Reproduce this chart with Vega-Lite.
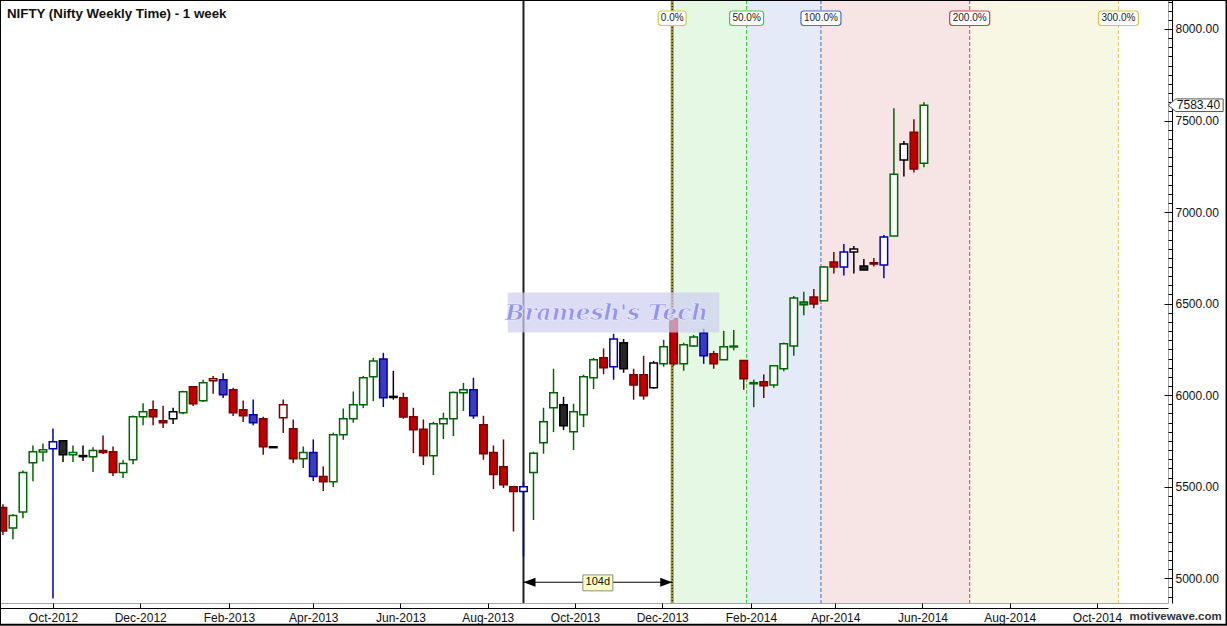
{
  "$schema": "https://vega.github.io/schema/vega-lite/v6.json",
  "width": 1168,
  "height": 603,
  "autosize": {"type": "none"},
  "padding": {"left": 0, "top": 0, "right": 59, "bottom": 23},
  "background": "#ffffff",
  "config": {
    "view": {"stroke": "#a8a8a8", "strokeWidth": 1},
    "font": "Liberation Sans",
    "text": {"font": "Liberation Sans"},
    "axis": {"labelOverlap": false},
    "scale": {"continuousPadding": 0}
  },
  "title": {
    "text": "NIFTY (Nifty Weekly Time) - 1 week",
    "anchor": "start",
    "frame": "group",
    "orient": "top",
    "offset": 0,
    "baseline": "alphabetic",
    "dy": 33,
    "dx": 7,
    "font": "Liberation Sans",
    "fontSize": 13.3,
    "fontWeight": "bold",
    "color": "#111111"
  },
  "resolve": {"scale": {"fill": "independent", "stroke": "independent"}, "axis": {"y": "independent"}},
  "datasets": {
    "candles": [
      {"d":"2012-08-27","o":5386,"h":5404,"l":5236,"c":5258,"g":"R"},
      {"d":"2012-09-03","o":5274,"h":5349,"l":5213,"c":5342,"g":"G"},
      {"d":"2012-09-10","o":5362,"h":5589,"l":5327,"c":5577,"g":"G"},
      {"d":"2012-09-17","o":5631,"h":5725,"l":5529,"c":5691,"g":"G"},
      {"d":"2012-09-24","o":5689,"h":5736,"l":5638,"c":5702,"g":"G"},
      {"d":"2012-10-01","o":5707,"h":5818,"l":4889,"c":5746,"g":"B"},
      {"d":"2012-10-08","o":5751,"h":5755,"l":5635,"c":5675,"g":"K"},
      {"d":"2012-10-15","o":5675,"h":5725,"l":5635,"c":5686,"g":"G"},
      {"d":"2012-10-22","o":5670,"h":5725,"l":5640,"c":5664,"g":"K"},
      {"d":"2012-10-29","o":5664,"h":5715,"l":5580,"c":5697,"g":"G"},
      {"d":"2012-11-05","o":5697,"h":5780,"l":5678,"c":5686,"g":"R"},
      {"d":"2012-11-12","o":5691,"h":5720,"l":5558,"c":5577,"g":"R"},
      {"d":"2012-11-19","o":5577,"h":5644,"l":5547,"c":5626,"g":"G"},
      {"d":"2012-11-26","o":5647,"h":5889,"l":5622,"c":5882,"g":"G"},
      {"d":"2012-12-03","o":5882,"h":5955,"l":5836,"c":5909,"g":"G"},
      {"d":"2012-12-10","o":5920,"h":5971,"l":5836,"c":5882,"g":"R"},
      {"d":"2012-12-17","o":5860,"h":5942,"l":5820,"c":5849,"g":"R"},
      {"d":"2012-12-24","o":5871,"h":5931,"l":5842,"c":5909,"g":"K"},
      {"d":"2012-12-31","o":5904,"h":6024,"l":5896,"c":6018,"g":"G"},
      {"d":"2013-01-07","o":6046,"h":6046,"l":5940,"c":5953,"g":"R"},
      {"d":"2013-01-14","o":5969,"h":6084,"l":5962,"c":6067,"g":"G"},
      {"d":"2013-01-21","o":6078,"h":6105,"l":6007,"c":6089,"g":"R"},
      {"d":"2013-01-28","o":6084,"h":6120,"l":5984,"c":6002,"g":"B"},
      {"d":"2013-02-04","o":6029,"h":6040,"l":5886,"c":5904,"g":"R"},
      {"d":"2013-02-11","o":5920,"h":5971,"l":5853,"c":5887,"g":"R"},
      {"d":"2013-02-18","o":5893,"h":5976,"l":5836,"c":5849,"g":"B"},
      {"d":"2013-02-25","o":5871,"h":5882,"l":5675,"c":5718,"g":"R"},
      {"d":"2013-03-04","o":5718,"h":5718,"l":5713,"c":5713,"g":"K"},
      {"d":"2013-03-11","o":5876,"h":5976,"l":5793,"c":5947,"g":"R"},
      {"d":"2013-03-18","o":5817,"h":5867,"l":5629,"c":5653,"g":"R"},
      {"d":"2013-03-25","o":5653,"h":5720,"l":5602,"c":5686,"g":"G"},
      {"d":"2013-04-01","o":5686,"h":5758,"l":5531,"c":5555,"g":"B"},
      {"d":"2013-04-08","o":5555,"h":5611,"l":5476,"c":5527,"g":"R"},
      {"d":"2013-04-15","o":5527,"h":5795,"l":5498,"c":5784,"g":"G"},
      {"d":"2013-04-22","o":5784,"h":5927,"l":5756,"c":5871,"g":"G"},
      {"d":"2013-04-29","o":5871,"h":6020,"l":5849,"c":5947,"g":"G"},
      {"d":"2013-05-06","o":5947,"h":6105,"l":5929,"c":6095,"g":"G"},
      {"d":"2013-05-13","o":6100,"h":6204,"l":5967,"c":6187,"g":"G"},
      {"d":"2013-05-20","o":6198,"h":6231,"l":5935,"c":5985,"g":"B"},
      {"d":"2013-05-27","o":5993,"h":6133,"l":5975,"c":5987,"g":"K"},
      {"d":"2013-06-03","o":5985,"h":6013,"l":5871,"c":5880,"g":"R"},
      {"d":"2013-06-10","o":5882,"h":5931,"l":5684,"c":5811,"g":"R"},
      {"d":"2013-06-17","o":5813,"h":5867,"l":5618,"c":5669,"g":"R"},
      {"d":"2013-06-24","o":5669,"h":5855,"l":5563,"c":5844,"g":"G"},
      {"d":"2013-07-01","o":5844,"h":5904,"l":5760,"c":5871,"g":"G"},
      {"d":"2013-07-08","o":5871,"h":6020,"l":5776,"c":6015,"g":"G"},
      {"d":"2013-07-15","o":6013,"h":6067,"l":5914,"c":6029,"g":"G"},
      {"d":"2013-07-22","o":6029,"h":6095,"l":5871,"c":5887,"g":"B"},
      {"d":"2013-07-29","o":5838,"h":5887,"l":5647,"c":5680,"g":"R"},
      {"d":"2013-08-05","o":5686,"h":5725,"l":5487,"c":5566,"g":"R"},
      {"d":"2013-08-12","o":5609,"h":5758,"l":5493,"c":5511,"g":"R"},
      {"d":"2013-08-19","o":5500,"h":5505,"l":5255,"c":5473,"g":"R"},
      {"d":"2013-08-26","o":5473,"h":5527,"l":5119,"c":5500,"g":"B"},
      {"d":"2013-09-02","o":5577,"h":5691,"l":5318,"c":5682,"g":"G"},
      {"d":"2013-09-09","o":5740,"h":5931,"l":5680,"c":5855,"g":"G"},
      {"d":"2013-09-16","o":5931,"h":6144,"l":5798,"c":6013,"g":"G"},
      {"d":"2013-09-23","o":5947,"h":5991,"l":5809,"c":5833,"g":"K"},
      {"d":"2013-09-30","o":5800,"h":5953,"l":5700,"c":5909,"g":"G"},
      {"d":"2013-10-07","o":5893,"h":6111,"l":5825,"c":6100,"g":"G"},
      {"d":"2013-10-14","o":6095,"h":6204,"l":6033,"c":6193,"g":"G"},
      {"d":"2013-10-21","o":6204,"h":6255,"l":6114,"c":6149,"g":"R"},
      {"d":"2013-10-28","o":6155,"h":6335,"l":6084,"c":6307,"g":"B"},
      {"d":"2013-11-04","o":6286,"h":6307,"l":6122,"c":6144,"g":"K"},
      {"d":"2013-11-11","o":6111,"h":6144,"l":5975,"c":6056,"g":"R"},
      {"d":"2013-11-18","o":6111,"h":6215,"l":5975,"c":5996,"g":"R"},
      {"d":"2013-11-25","o":6040,"h":6187,"l":6035,"c":6176,"g":"K"},
      {"d":"2013-12-02","o":6171,"h":6302,"l":6155,"c":6264,"g":"G"},
      {"d":"2013-12-09","o":6418,"h":6420,"l":6160,"c":6171,"g":"R"},
      {"d":"2013-12-16","o":6171,"h":6286,"l":6133,"c":6275,"g":"G"},
      {"d":"2013-12-23","o":6269,"h":6329,"l":6264,"c":6318,"g":"G"},
      {"d":"2013-12-30","o":6340,"h":6362,"l":6171,"c":6215,"g":"B"},
      {"d":"2014-01-06","o":6226,"h":6242,"l":6144,"c":6171,"g":"R"},
      {"d":"2014-01-13","o":6193,"h":6351,"l":6193,"c":6264,"g":"G"},
      {"d":"2014-01-20","o":6263,"h":6356,"l":6245,"c":6268,"g":"G"},
      {"d":"2014-01-27","o":6189,"h":6189,"l":6029,"c":6089,"g":"R"},
      {"d":"2014-02-03","o":6062,"h":6085,"l":5934,"c":6068,"g":"G"},
      {"d":"2014-02-10","o":6073,"h":6113,"l":5984,"c":6051,"g":"R"},
      {"d":"2014-02-17","o":6056,"h":6162,"l":6040,"c":6160,"g":"G"},
      {"d":"2014-02-24","o":6144,"h":6287,"l":6131,"c":6280,"g":"G"},
      {"d":"2014-03-03","o":6269,"h":6542,"l":6215,"c":6531,"g":"G"},
      {"d":"2014-03-10","o":6509,"h":6564,"l":6436,"c":6493,"g":"G"},
      {"d":"2014-03-17","o":6536,"h":6580,"l":6474,"c":6498,"g":"R"},
      {"d":"2014-03-24","o":6515,"h":6704,"l":6515,"c":6700,"g":"G"},
      {"d":"2014-03-31","o":6727,"h":6782,"l":6665,"c":6700,"g":"R"},
      {"d":"2014-04-07","o":6700,"h":6826,"l":6654,"c":6782,"g":"B"},
      {"d":"2014-04-14","o":6782,"h":6815,"l":6665,"c":6798,"g":"K"},
      {"d":"2014-04-21","o":6705,"h":6744,"l":6684,"c":6684,"g":"K"},
      {"d":"2014-04-28","o":6723,"h":6749,"l":6703,"c":6716,"g":"R"},
      {"d":"2014-05-05","o":6711,"h":6875,"l":6638,"c":6864,"g":"B"},
      {"d":"2014-05-12","o":6869,"h":7567,"l":6869,"c":7207,"g":"G"},
      {"d":"2014-05-19","o":7284,"h":7388,"l":7194,"c":7371,"g":"K"},
      {"d":"2014-05-26","o":7436,"h":7507,"l":7216,"c":7235,"g":"R"},
      {"d":"2014-06-02","o":7267,"h":7600,"l":7245,"c":7583.4,"g":"G"}
    ],
    "zones": [
      {"d":"2013-12-08","d2":"2014-01-29","z":"50"},
      {"d":"2014-01-29","d2":"2014-03-22","z":"100"},
      {"d":"2014-03-22","d2":"2014-07-04","z":"200"},
      {"d":"2014-07-04","d2":"2014-10-16","z":"300"}
    ],
    "levels": [
      {"d":"2013-12-08","lv":"0.0%"},
      {"d":"2014-01-29","lv":"50.0%"},
      {"d":"2014-03-22","lv":"100.0%"},
      {"d":"2014-07-04","lv":"200.0%"},
      {"d":"2014-10-16","lv":"300.0%"}
    ],
    "span": [
      {"d":"2013-08-26","d2":"2013-12-08","mid":"2013-10-17","p":4978,"label":"104d"}
    ],
    "frame": [
      {"d":"2012-08-24T23:00:00Z","p":8158.2}
    ]
  },
  "layer": [
    {
      "data": {"name": "zones"},
      "mark": {"type": "rect"},
      "encoding": {
        "x": {"field": "d", "type": "temporal", "title": null,
              "scale": {"type": "utc", "nice": false, "padding": 0, "domain": [{"year":2012,"month":8,"date":24,"hours":23,"utc":true},{"year":2014,"month":11,"date":19,"hours":16,"utc":true}]}},
        "x2": {"field": "d2"},
        "fill": {"field": "z", "type": "nominal", "legend": null,
                 "scale": {"domain": ["50","100","200","300"], "range": ["#e4f8e4","#e4eaf7","#f7e4e4","#f8f7e4"]}}
      }
    },
    {
      "data": {"name": "levels"},
      "transform": [{"filter": "datum.lv !== '0.0%'"}],
      "mark": {"type": "rule", "strokeDash": [4, 2], "strokeWidth": 1},
      "encoding": {
        "x": {"field": "d", "type": "temporal", "title": null,
              "scale": {"type": "utc", "nice": false, "padding": 0, "domain": [{"year":2012,"month":8,"date":24,"hours":23,"utc":true},{"year":2014,"month":11,"date":19,"hours":16,"utc":true}]}},
        "stroke": {"field": "lv", "type": "nominal", "legend": null,
                   "scale": {"domain": ["50.0%","100.0%","200.0%","300.0%"], "range": ["#33cc33","#4a6ec4","#d04545","#d8d060"]}}
      }
    },
    {
      "data": {"name": "levels"},
      "transform": [{"filter": "datum.lv === '0.0%'"}],
      "mark": {"type": "rule", "strokeWidth": 3, "color": "#9c9636"},
      "encoding": {
        "x": {"field": "d", "type": "temporal", "title": null,
              "scale": {"type": "utc", "nice": false, "padding": 0, "domain": [{"year":2012,"month":8,"date":24,"hours":23,"utc":true},{"year":2014,"month":11,"date":19,"hours":16,"utc":true}]}}
      }
    },
    {
      "data": {"name": "levels"},
      "transform": [{"filter": "datum.lv === '0.0%'"}],
      "mark": {"type": "rule", "strokeWidth": 1, "strokeDash": [1, 2], "color": "#000000"},
      "encoding": {
        "x": {"field": "d", "type": "temporal", "title": null,
              "scale": {"type": "utc", "nice": false, "padding": 0, "domain": [{"year":2012,"month":8,"date":24,"hours":23,"utc":true},{"year":2014,"month":11,"date":19,"hours":16,"utc":true}]}}
      }
    },
    {
      "data": {"name": "span"},
      "mark": {"type": "rule", "strokeWidth": 2, "color": "#1e1e1e"},
      "encoding": {
        "x": {"field": "d", "type": "temporal", "title": null,
              "scale": {"type": "utc", "nice": false, "padding": 0, "domain": [{"year":2012,"month":8,"date":24,"hours":23,"utc":true},{"year":2014,"month":11,"date":19,"hours":16,"utc":true}]}}
      }
    },
    {
      "data": {"name": "frame"},
      "mark": {"type": "rule", "strokeWidth": 2, "color": "#000000"},
      "encoding": {
        "x": {"field": "d", "type": "temporal", "title": null,
              "scale": {"type": "utc", "nice": false, "padding": 0, "domain": [{"year":2012,"month":8,"date":24,"hours":23,"utc":true},{"year":2014,"month":11,"date":19,"hours":16,"utc":true}]}}
      }
    },
    {
      "data": {"name": "frame"},
      "mark": {"type": "rule", "strokeWidth": 2, "color": "#000000"},
      "encoding": {
        "y": {"field": "p", "type": "quantitative", "title": null,
              "scale": {"domain": [4864.6, 8158.2], "nice": false, "zero": false, "padding": 0},
              "axis": {
                "orient": "right", "offset": 4, "grid": false, "title": null,
                "values": [4900,4950,5050,5100,5150,5200,5250,5300,5350,5400,5450,5550,5600,5650,5700,5750,5800,5850,5900,5950,6050,6100,6150,6200,6250,6300,6350,6400,6450,6550,6600,6650,6700,6750,6800,6850,6900,6950,7050,7100,7150,7200,7250,7300,7350,7400,7450,7550,7600,7650,7700,7750,7800,7850,7900,7950,8050,8100,8150],
                "labels": false, "domain": false,
                "tickSize": -4, "tickColor": "#000000", "tickWidth": 1
              }}
      }
    },
    {
      "data": {"name": "candles"},
      "mark": {"type": "rule", "strokeWidth": 1.5},
      "encoding": {
        "x": {"field": "d", "type": "temporal", "title": null,
              "scale": {"type": "utc", "nice": false, "padding": 0, "domain": [{"year":2012,"month":8,"date":24,"hours":23,"utc":true},{"year":2014,"month":11,"date":19,"hours":16,"utc":true}]},
              "axis": {
                "orient": "bottom", "offset": 5, "grid": false, "title": null,
                "values": [
                  {"year":2012,"month":10,"date":1,"utc":true},{"year":2012,"month":12,"date":1,"utc":true},
                  {"year":2013,"month":2,"date":1,"utc":true},{"year":2013,"month":4,"date":1,"utc":true},
                  {"year":2013,"month":6,"date":1,"utc":true},{"year":2013,"month":8,"date":1,"utc":true},
                  {"year":2013,"month":10,"date":1,"utc":true},{"year":2013,"month":12,"date":1,"utc":true},
                  {"year":2014,"month":2,"date":1,"utc":true},{"year":2014,"month":4,"date":1,"utc":true},
                  {"year":2014,"month":6,"date":1,"utc":true},{"year":2014,"month":8,"date":1,"utc":true},
                  {"year":2014,"month":10,"date":1,"utc":true}
                ],
                "labelExpr": "utcFormat(datum.value, '%b-%Y')",
                "tickSize": -5, "tickColor": "#000000", "domainColor": "#000000",
                "labelFont": "Liberation Sans", "labelFontSize": 12, "labelColor": "#111111",
                "labelPadding": 9, "labelFlush": false, "labelOverlap": false
              }},
        "y": {"field": "l", "type": "quantitative", "title": null,
              "scale": {"domain": [4864.6, 8158.2], "nice": false, "zero": false, "padding": 0},
              "axis": {
                "orient": "right", "offset": 4, "grid": false, "title": null,
                "values": [5000,5500,6000,6500,7000,7500,8000],
                "format": ".2f",
                "tickSize": -8,
                "tickColor": "#000000", "domainColor": "#000000",
                "labelFont": "Liberation Sans", "labelFontSize": 12, "labelColor": "#111111",
                "labelPadding": 11, "labelOverlap": false, "labelBaseline": "middle"
              }},
        "y2": {"field": "h"},
        "stroke": {"field": "g", "type": "nominal", "legend": null,
                   "scale": {"domain": ["G","R","B","K"], "range": ["#006600","#7a0000","#0000b8","#000000"]}}
      }
    },
    {
      "data": {"name": "candles"},
      "mark": {"type": "bar", "size": 7.5, "strokeWidth": 1.5},
      "encoding": {
        "x": {"field": "d", "type": "temporal", "title": null,
              "scale": {"type": "utc", "nice": false, "padding": 0, "domain": [{"year":2012,"month":8,"date":24,"hours":23,"utc":true},{"year":2014,"month":11,"date":19,"hours":16,"utc":true}]}},
        "y": {"field": "o", "type": "quantitative", "title": null, "axis": null,
              "scale": {"domain": [4864.6, 8158.2], "nice": false, "zero": false, "padding": 0}},
        "y2": {"field": "c"},
        "stroke": {"field": "g", "type": "nominal", "legend": null,
                   "scale": {"domain": ["G","R","B","K"], "range": ["#006600","#7a0000","#0000b8","#000000"]}},
        "fill": {
          "condition": {"test": "datum.c < datum.o", "field": "g", "type": "nominal", "legend": null,
                        "scale": {"domain": ["G","R","B","K"], "range": ["#1f9b1f","#c00000","#3c3cb8","#262626"]}},
          "value": "#ffffff"
        }
      }
    },
    {
      "data": {"values": [{"d":"2013-08-15","d2":"2014-01-10","top":6560,"bottom":6342}]},
      "mark": {"type": "rect", "fill": "#cfcff0", "opacity": 0.72},
      "encoding": {
        "x": {"field": "d", "type": "temporal", "title": null,
              "scale": {"type": "utc", "nice": false, "padding": 0, "domain": [{"year":2012,"month":8,"date":24,"hours":23,"utc":true},{"year":2014,"month":11,"date":19,"hours":16,"utc":true}]}},
        "x2": {"field": "d2"},
        "y": {"field": "top", "type": "quantitative", "title": null, "axis": null,
              "scale": {"domain": [4864.6, 8158.2], "nice": false, "zero": false, "padding": 0}},
        "y2": {"field": "bottom"}
      }
    },
    {
      "data": {"values": [{"d":"2013-10-23","p":6451,"text":"Bramesh's Tech"}]},
      "mark": {"type": "text", "font": "DejaVu Serif", "fontStyle": "italic", "fontWeight": "bold", "fontSize": 23, "fill": "#9494ea", "stroke": "#f4f4ff", "strokeWidth": 0.6, "align": "center", "baseline": "middle"},
      "encoding": {
        "x": {"field": "d", "type": "temporal", "title": null,
              "scale": {"type": "utc", "nice": false, "padding": 0, "domain": [{"year":2012,"month":8,"date":24,"hours":23,"utc":true},{"year":2014,"month":11,"date":19,"hours":16,"utc":true}]}},
        "y": {"field": "p", "type": "quantitative", "title": null, "axis": null,
              "scale": {"domain": [4864.6, 8158.2], "nice": false, "zero": false, "padding": 0}},
        "text": {"field": "text"}
      }
    },
    {
      "data": {"name": "levels"},
      "transform": [{"filter": "datum.lv === '0.0%'"}],
      "mark": {"type": "rect", "fill": "#ffffff", "strokeWidth": 1.2, "cornerRadius": 3, "xOffset": -14, "x2Offset": 14},
      "encoding": {
        "x": {"field": "d", "type": "temporal", "title": null,
              "scale": {"type": "utc", "nice": false, "padding": 0, "domain": [{"year":2012,"month":8,"date":24,"hours":23,"utc":true},{"year":2014,"month":11,"date":19,"hours":16,"utc":true}]}},
        "x2": {"field": "d"},
        "y": {"datum": 8098, "type": "quantitative", "axis": null,
              "scale": {"domain": [4864.6, 8158.2], "nice": false, "zero": false, "padding": 0}},
        "y2": {"datum": 8019},
        "stroke": {"field": "lv", "type": "nominal", "legend": null,
                   "scale": {"domain": ["0.0%","50.0%","100.0%","200.0%","300.0%"], "range": ["#d4c84a","#44cc44","#4a70c8","#d04040","#d4c84a"]}}
      }
    },
    {
      "data": {"name": "levels"},
      "transform": [{"filter": "datum.lv === '50.0%'"}],
      "mark": {"type": "rect", "fill": "#ffffff", "strokeWidth": 1.2, "cornerRadius": 3, "xOffset": -17, "x2Offset": 17},
      "encoding": {
        "x": {"field": "d", "type": "temporal", "title": null,
              "scale": {"type": "utc", "nice": false, "padding": 0, "domain": [{"year":2012,"month":8,"date":24,"hours":23,"utc":true},{"year":2014,"month":11,"date":19,"hours":16,"utc":true}]}},
        "x2": {"field": "d"},
        "y": {"datum": 8098, "type": "quantitative", "axis": null,
              "scale": {"domain": [4864.6, 8158.2], "nice": false, "zero": false, "padding": 0}},
        "y2": {"datum": 8019},
        "stroke": {"field": "lv", "type": "nominal", "legend": null,
                   "scale": {"domain": ["0.0%","50.0%","100.0%","200.0%","300.0%"], "range": ["#d4c84a","#44cc44","#4a70c8","#d04040","#d4c84a"]}}
      }
    },
    {
      "data": {"name": "levels"},
      "transform": [{"filter": "datum.lv === '100.0%' || datum.lv === '200.0%' || datum.lv === '300.0%'"}],
      "mark": {"type": "rect", "fill": "#ffffff", "strokeWidth": 1.2, "cornerRadius": 3, "xOffset": -20, "x2Offset": 20},
      "encoding": {
        "x": {"field": "d", "type": "temporal", "title": null,
              "scale": {"type": "utc", "nice": false, "padding": 0, "domain": [{"year":2012,"month":8,"date":24,"hours":23,"utc":true},{"year":2014,"month":11,"date":19,"hours":16,"utc":true}]}},
        "x2": {"field": "d"},
        "y": {"datum": 8098, "type": "quantitative", "axis": null,
              "scale": {"domain": [4864.6, 8158.2], "nice": false, "zero": false, "padding": 0}},
        "y2": {"datum": 8019},
        "stroke": {"field": "lv", "type": "nominal", "legend": null,
                   "scale": {"domain": ["0.0%","50.0%","100.0%","200.0%","300.0%"], "range": ["#d4c84a","#44cc44","#4a70c8","#d04040","#d4c84a"]}}
      }
    },
    {
      "data": {"name": "levels"},
      "mark": {"type": "text", "fontSize": 10, "font": "Liberation Sans", "color": "#1a1a1a", "align": "center", "baseline": "middle"},
      "encoding": {
        "x": {"field": "d", "type": "temporal", "title": null,
              "scale": {"type": "utc", "nice": false, "padding": 0, "domain": [{"year":2012,"month":8,"date":24,"hours":23,"utc":true},{"year":2014,"month":11,"date":19,"hours":16,"utc":true}]}},
        "y": {"datum": 8059, "type": "quantitative", "axis": null,
              "scale": {"domain": [4864.6, 8158.2], "nice": false, "zero": false, "padding": 0}},
        "text": {"field": "lv"}
      }
    },
    {
      "data": {"name": "span"},
      "mark": {"type": "rule", "strokeWidth": 1, "color": "#000000"},
      "encoding": {
        "x": {"field": "d", "type": "temporal", "title": null,
              "scale": {"type": "utc", "nice": false, "padding": 0, "domain": [{"year":2012,"month":8,"date":24,"hours":23,"utc":true},{"year":2014,"month":11,"date":19,"hours":16,"utc":true}]}},
        "x2": {"field": "d2"},
        "y": {"field": "p", "type": "quantitative", "title": null, "axis": null,
              "scale": {"domain": [4864.6, 8158.2], "nice": false, "zero": false, "padding": 0}}
      }
    },
    {
      "data": {"name": "span"},
      "mark": {"type": "point", "filled": true, "color": "#000000", "opacity": 1, "size": 576, "shape": "M0,0 L1,-0.38 L1,0.38 Z"},
      "encoding": {
        "x": {"field": "d", "type": "temporal", "title": null,
              "scale": {"type": "utc", "nice": false, "padding": 0, "domain": [{"year":2012,"month":8,"date":24,"hours":23,"utc":true},{"year":2014,"month":11,"date":19,"hours":16,"utc":true}]}},
        "y": {"field": "p", "type": "quantitative", "title": null, "axis": null,
              "scale": {"domain": [4864.6, 8158.2], "nice": false, "zero": false, "padding": 0}}
      }
    },
    {
      "data": {"name": "span"},
      "mark": {"type": "point", "filled": true, "color": "#000000", "opacity": 1, "size": 576, "shape": "M0,0 L-1,-0.38 L-1,0.38 Z"},
      "encoding": {
        "x": {"field": "d2", "type": "temporal", "title": null,
              "scale": {"type": "utc", "nice": false, "padding": 0, "domain": [{"year":2012,"month":8,"date":24,"hours":23,"utc":true},{"year":2014,"month":11,"date":19,"hours":16,"utc":true}]}},
        "y": {"field": "p", "type": "quantitative", "title": null, "axis": null,
              "scale": {"domain": [4864.6, 8158.2], "nice": false, "zero": false, "padding": 0}}
      }
    },
    {
      "data": {"name": "span"},
      "mark": {"type": "rect", "fill": "#ffffc4", "stroke": "#8c8c8c", "strokeWidth": 1, "xOffset": -15, "x2Offset": 15},
      "encoding": {
        "x": {"field": "mid", "type": "temporal", "title": null,
              "scale": {"type": "utc", "nice": false, "padding": 0, "domain": [{"year":2012,"month":8,"date":24,"hours":23,"utc":true},{"year":2014,"month":11,"date":19,"hours":16,"utc":true}]}},
        "x2": {"field": "mid"},
        "y": {"datum": 5018, "type": "quantitative", "axis": null,
              "scale": {"domain": [4864.6, 8158.2], "nice": false, "zero": false, "padding": 0}},
        "y2": {"datum": 4931}
      }
    },
    {
      "data": {"name": "span"},
      "mark": {"type": "text", "fontSize": 11, "font": "Liberation Sans", "color": "#111111", "align": "center", "baseline": "middle"},
      "encoding": {
        "x": {"field": "mid", "type": "temporal", "title": null,
              "scale": {"type": "utc", "nice": false, "padding": 0, "domain": [{"year":2012,"month":8,"date":24,"hours":23,"utc":true},{"year":2014,"month":11,"date":19,"hours":16,"utc":true}]}},
        "y": {"field": "p", "type": "quantitative", "title": null, "axis": null,
              "scale": {"domain": [4864.6, 8158.2], "nice": false, "zero": false, "padding": 0}},
        "text": {"field": "label"}
      }
    },
    {
      "data": {"values": [{"d":"2014-12-09","p":7583.4,"label":"7583.40"}]},
      "mark": {"type": "point", "filled": true, "fill": "#ffffff", "stroke": "#555555", "strokeWidth": 1, "opacity": 1, "size": 3025, "clip": false, "shape": "M-1,0 L-0.72,-0.23 L1,-0.23 L1,0.23 L-0.72,0.23 Z"},
      "encoding": {
        "x": {"field": "d", "type": "temporal", "title": null,
              "scale": {"type": "utc", "nice": false, "padding": 0, "domain": [{"year":2012,"month":8,"date":24,"hours":23,"utc":true},{"year":2014,"month":11,"date":19,"hours":16,"utc":true}]}},
        "y": {"field": "p", "type": "quantitative", "title": null, "axis": null,
              "scale": {"domain": [4864.6, 8158.2], "nice": false, "zero": false, "padding": 0}}
      }
    },
    {
      "data": {"values": [{"d":"2014-12-11","p":7583.4,"label":"7583.40"}]},
      "mark": {"type": "text", "fontSize": 12, "font": "Liberation Sans", "color": "#111111", "align": "center", "baseline": "middle", "clip": false},
      "encoding": {
        "x": {"field": "d", "type": "temporal", "title": null,
              "scale": {"type": "utc", "nice": false, "padding": 0, "domain": [{"year":2012,"month":8,"date":24,"hours":23,"utc":true},{"year":2014,"month":11,"date":19,"hours":16,"utc":true}]}},
        "y": {"field": "p", "type": "quantitative", "title": null, "axis": null,
              "scale": {"domain": [4864.6, 8158.2], "nice": false, "zero": false, "padding": 0}},
        "text": {"field": "label"}
      }
    },
    {
      "data": {"values": [{"d":"2014-11-25","p":4787,"label":"motivewave.com"}]},
      "mark": {"type": "text", "fontSize": 11.5, "fontWeight": "bold", "font": "Liberation Sans", "color": "#333333", "align": "center", "baseline": "middle", "clip": false},
      "encoding": {
        "x": {"field": "d", "type": "temporal", "title": null,
              "scale": {"type": "utc", "nice": false, "padding": 0, "domain": [{"year":2012,"month":8,"date":24,"hours":23,"utc":true},{"year":2014,"month":11,"date":19,"hours":16,"utc":true}]}},
        "y": {"field": "p", "type": "quantitative", "title": null, "axis": null,
              "scale": {"domain": [4864.6, 8158.2], "nice": false, "zero": false, "padding": 0}},
        "text": {"field": "label"}
      }
    },
    {
      "data": {"values": [{"d":"2012-08-24T23:00:00Z","d2":"2014-12-30T14:00:00Z","top":8158.2,"bottom":4746.4}]},
      "mark": {"type": "rect", "fill": "transparent", "stroke": "#000000", "strokeWidth": 2, "clip": false},
      "encoding": {
        "x": {"field": "d", "type": "temporal", "title": null,
              "scale": {"type": "utc", "nice": false, "padding": 0, "domain": [{"year":2012,"month":8,"date":24,"hours":23,"utc":true},{"year":2014,"month":11,"date":19,"hours":16,"utc":true}]}},
        "x2": {"field": "d2"},
        "y": {"field": "top", "type": "quantitative", "title": null, "axis": null,
              "scale": {"domain": [4864.6, 8158.2], "nice": false, "zero": false, "padding": 0}},
        "y2": {"field": "bottom"}
      }
    }
  ]
}
